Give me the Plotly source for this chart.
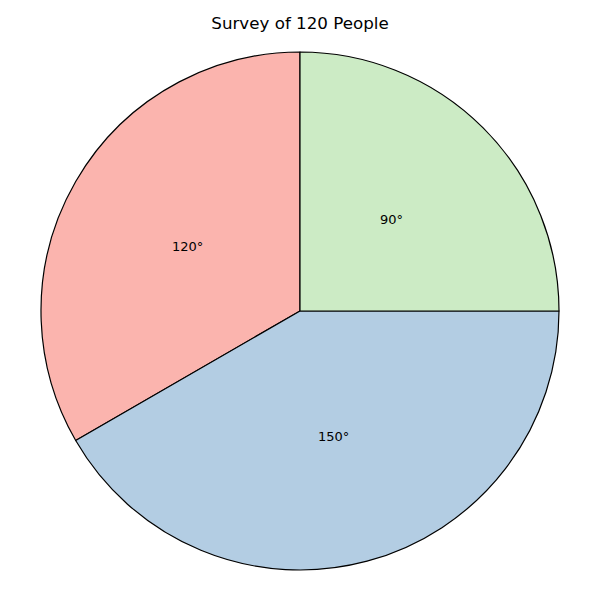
import math
import plotly.graph_objects as go

labels = ["120°", "150°", "90°"]
angles = [120, 150, 90]
colors = ["#fbb4ae", "#b3cde3", "#ccebc5"]
title = "Survey of 120 People"

total = sum(angles)
# plotly's counterclockwise mode ends the first slice at `rotation`;
# shift so the first slice starts at 12 o'clock like matplotlib startangle=90
first_span = angles[0] / total * 360

fig = go.Figure(go.Pie(
    labels=labels, values=angles, sort=False, direction="counterclockwise",
    rotation=-first_span, marker=dict(colors=colors, line=dict(color="black", width=1.2)),
    textinfo="none", hoverinfo="label", showlegend=False,
))

annotations = []
start = 90.0
for lab, a in zip(labels, angles):
    span = a / total * 360
    mid = math.radians(start + span / 2)
    start += span
    annotations.append(dict(
        x=0.5 + 0.25 * math.cos(mid), y=0.5 + 0.25 * math.sin(mid),
        xref="paper", yref="paper", xanchor="center", yanchor="middle",
        text=lab, showarrow=False,
        font=dict(family="DejaVu Sans", size=13, color="black"),
    ))

fig.update_layout(
    width=600, height=600,
    margin=dict(l=41, r=41, t=52, b=30),
    paper_bgcolor="white", plot_bgcolor="white",
    title=dict(text=title, x=0.5, xanchor="center", y=1 - 23 / 600, yanchor="middle",
               font=dict(family="DejaVu Sans", size=16.7, color="black")),
    annotations=annotations,
)
fig.write_html("out.html", config={"displayModeBar": False},
               post_script="document.body.style.margin='0';")
